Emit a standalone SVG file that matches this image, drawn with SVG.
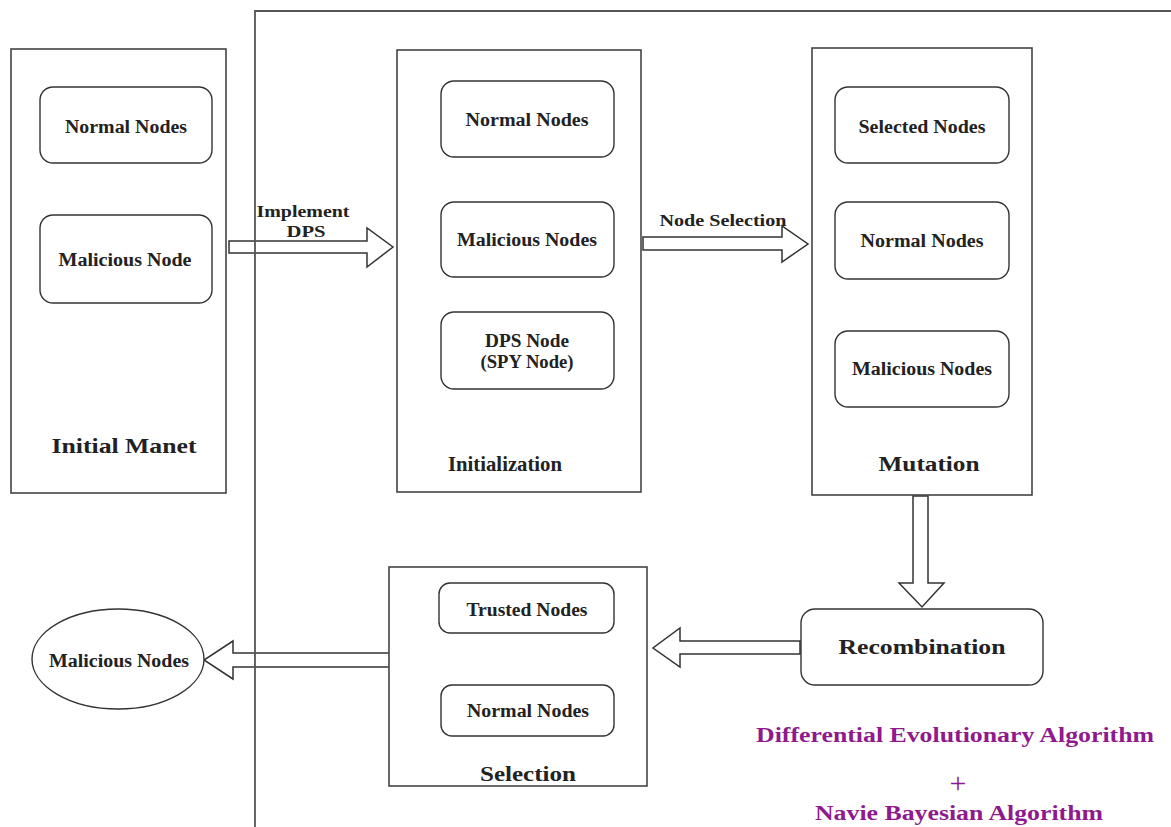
<svg xmlns="http://www.w3.org/2000/svg" width="1171" height="827" viewBox="0 0 1171 827" font-family="'Liberation Serif', 'DejaVu Serif', serif">
<style>
text{font-family:'Liberation Serif','DejaVu Serif',serif;font-weight:700;fill:#222;text-anchor:middle}
.lbl{font-size:18px}
.ttl{font-size:22px}
.arl{font-size:17px}
.pur{font-size:20px;fill:#8e1a8e}
.box{fill:#fff;stroke:#444;stroke-width:1.6}
.rnd{fill:#fff;stroke:#333;stroke-width:1.4}
.arr{fill:none;stroke:#333;stroke-width:1.5;stroke-linejoin:miter}
.frame{fill:none;stroke:#555;stroke-width:1.8}
</style>
<rect width="1171" height="827" fill="#fff"/>

<g id="connectors">
<polygon class="arr" points="229,241 367,241 367,228 393,247 367,267 367,253 229,253"/>
<polygon class="arr" points="643,237 782,237 782,226 808,244 782,262 782,250 643,250"/>
<polygon class="arr" points="913,496 928,496 928,583 944,583 922,607 899,583 913,583"/>
<polygon class="arr" points="800,641 680,641 680,628 653,648 680,667 680,654 800,654"/>
<polygon class="arr" points="392,653 233,653 233,641 204,660 233,679 233,667 392,667"/>
<text class="arl" x="303" y="217" textLength="93" lengthAdjust="spacingAndGlyphs">Implement</text>
<text class="arl" x="306" y="237" textLength="39" lengthAdjust="spacingAndGlyphs">DPS</text>
<text class="arl" x="723" y="226" textLength="127" lengthAdjust="spacingAndGlyphs">Node Selection</text>
</g>

<g id="frame">
<path class="frame" d="M1171,11 H255 V827"/>
</g>

<g id="initial-manet">
<rect class="box" x="11" y="49" width="215" height="444"/>
<text class="ttl" x="124" y="453" textLength="145" lengthAdjust="spacingAndGlyphs">Initial Manet</text>
</g>
<g id="im-normal">
<rect class="rnd" x="40" y="87" width="172" height="76" rx="13"/>
<text class="lbl" x="126" y="133" textLength="122" lengthAdjust="spacingAndGlyphs">Normal Nodes</text>
</g>
<g id="im-malicious">
<rect class="rnd" x="40" y="215" width="172" height="88" rx="13"/>
<text class="lbl" x="125" y="266" textLength="133" lengthAdjust="spacingAndGlyphs">Malicious Node</text>
</g>

<g id="initialization">
<rect class="box" x="397" y="50" width="244" height="442"/>
<text class="ttl" x="505" y="471" textLength="114" lengthAdjust="spacingAndGlyphs">Initialization</text>
</g>
<g id="in-normal">
<rect class="rnd" x="441" y="81" width="173" height="76" rx="13"/>
<text class="lbl" x="527" y="126" textLength="123" lengthAdjust="spacingAndGlyphs">Normal Nodes</text>
</g>
<g id="in-malicious">
<rect class="rnd" x="441" y="202" width="173" height="75" rx="13"/>
<text class="lbl" x="527" y="246" textLength="140" lengthAdjust="spacingAndGlyphs">Malicious Nodes</text>
</g>
<g id="in-dps">
<rect class="rnd" x="441" y="312" width="173" height="77" rx="13"/>
<text class="lbl" x="527" y="347" textLength="84" lengthAdjust="spacingAndGlyphs">DPS Node</text>
<text class="lbl" x="527" y="368" textLength="93" lengthAdjust="spacingAndGlyphs">(SPY Node)</text>
</g>

<g id="mutation">
<rect class="box" x="812" y="48" width="220" height="447"/>
<text class="ttl" x="929" y="471" textLength="101" lengthAdjust="spacingAndGlyphs">Mutation</text>
</g>
<g id="mu-selected">
<rect class="rnd" x="835" y="87" width="174" height="76" rx="13"/>
<text class="lbl" x="922" y="133" textLength="127" lengthAdjust="spacingAndGlyphs">Selected Nodes</text>
</g>
<g id="mu-normal">
<rect class="rnd" x="835" y="202" width="174" height="77" rx="13"/>
<text class="lbl" x="922" y="247" textLength="123" lengthAdjust="spacingAndGlyphs">Normal Nodes</text>
</g>
<g id="mu-malicious">
<rect class="rnd" x="835" y="331" width="174" height="76" rx="13"/>
<text class="lbl" x="922" y="375" textLength="140" lengthAdjust="spacingAndGlyphs">Malicious Nodes</text>
</g>

<g id="recombination">
<rect class="rnd" x="801" y="609" width="242" height="76" rx="14"/>
<text class="ttl" x="922" y="654" textLength="167" lengthAdjust="spacingAndGlyphs">Recombination</text>
</g>

<g id="selection">
<rect class="box" x="389" y="567" width="258" height="219"/>
<text class="ttl" x="528" y="781" textLength="96" lengthAdjust="spacingAndGlyphs">Selection</text>
</g>
<g id="se-trusted">
<rect class="rnd" x="439" y="583" width="175" height="50" rx="11"/>
<text class="lbl" x="527" y="616" textLength="121" lengthAdjust="spacingAndGlyphs">Trusted Nodes</text>
</g>
<g id="se-normal">
<rect class="rnd" x="441" y="685" width="173" height="51" rx="11"/>
<text class="lbl" x="528" y="717" textLength="122" lengthAdjust="spacingAndGlyphs">Normal Nodes</text>
</g>

<g id="malicious-out">
<ellipse class="rnd" cx="118" cy="659" rx="86" ry="50"/>
<text class="lbl" x="119" y="667" textLength="140" lengthAdjust="spacingAndGlyphs">Malicious Nodes</text>
</g>

<g id="legend">
<text class="pur" x="955" y="742" textLength="398" lengthAdjust="spacingAndGlyphs">Differential Evolutionary Algorithm</text>
<text class="pur" x="958" y="793" style="font-size:30px;font-weight:400">+</text>
<text class="pur" x="959" y="820" textLength="288" lengthAdjust="spacingAndGlyphs">Navie Bayesian Algorithm</text>
</g>
</svg>
